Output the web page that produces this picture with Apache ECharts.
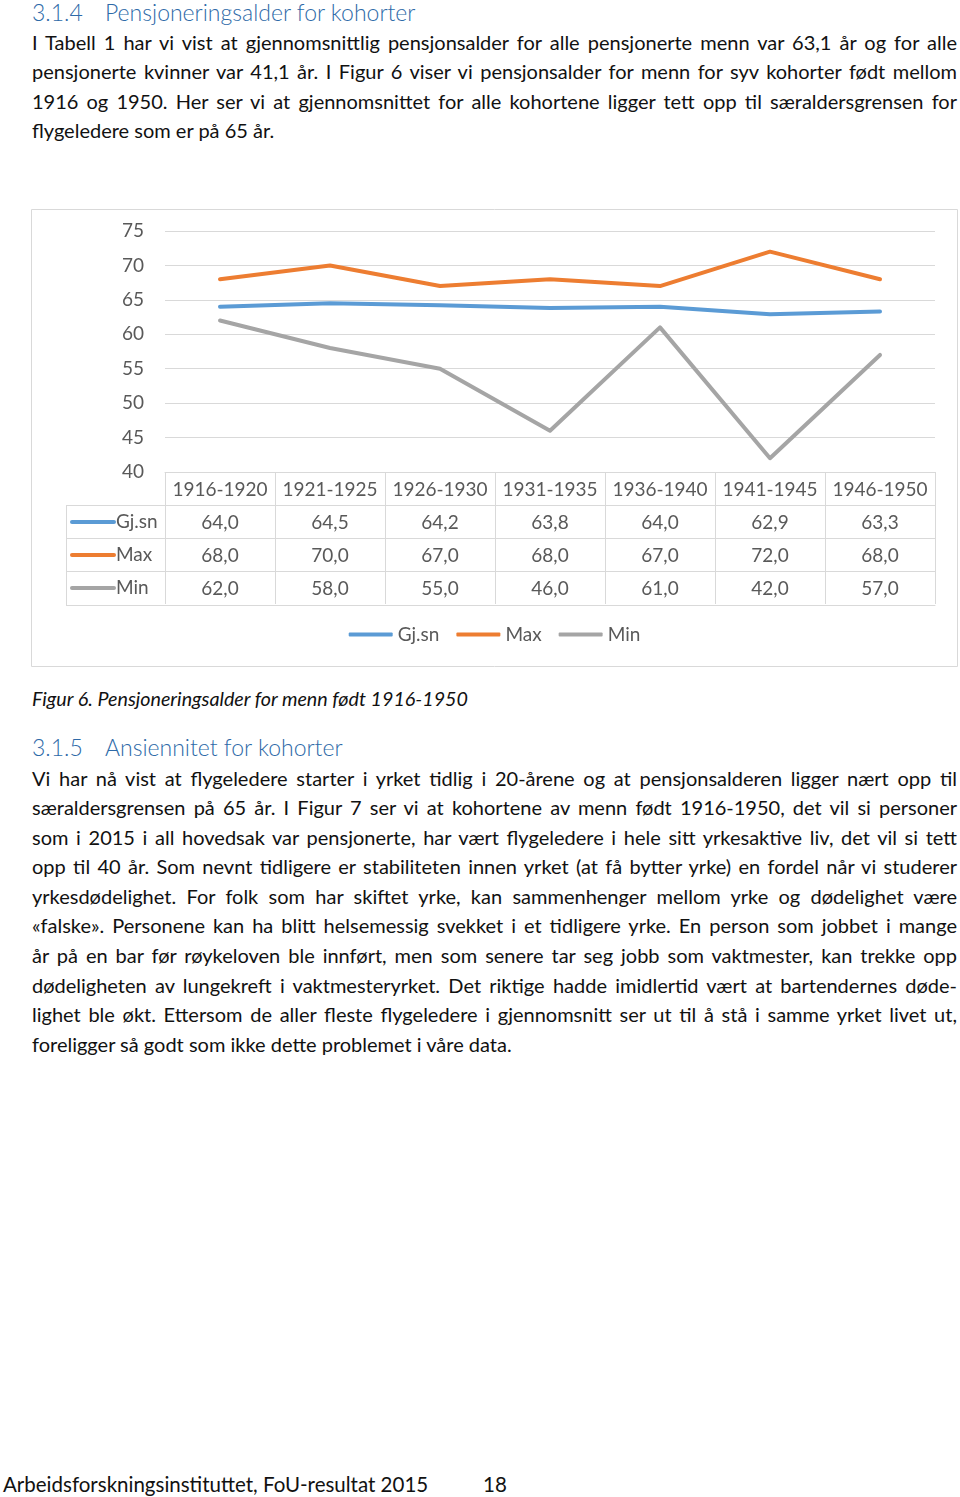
<!DOCTYPE html>
<html><head><meta charset="utf-8">
<script src="https://cdn.jsdelivr.net/npm/echarts@6/dist/echarts.min.js"></script>
<style>
html,body{margin:0;padding:0;background:#fff;}
body{width:960px;height:1497px;position:relative;overflow:hidden;font-family:Lato,'Open Sans',sans-serif;color:#111;}
.h{position:absolute;left:32px;font-size:23px;font-weight:300;color:#2E6AA8;white-space:nowrap;line-height:30px;}
.h .n{display:inline-block;width:73px;}
.p{position:absolute;left:32px;width:925px;font-size:20px;line-height:29.6px;}
.p div{text-align:justify;text-align-last:justify;}
.p div.last{text-align-last:left;}
.cap{position:absolute;left:32px;top:684px;font-size:19.7px;line-height:30px;font-style:italic;white-space:nowrap;color:#111;}
.foot{position:absolute;left:3px;top:1469px;font-size:20.5px;line-height:30px;white-space:nowrap;color:#111;}
.foot span{position:absolute;left:480px;}
#chart{position:absolute;left:31px;top:209px;width:927px;height:458px;}
</style></head>
<body>
<div class="h" style="top:-3px"><span class="n">3.1.4</span>Pensjoneringsalder for kohorter</div>
<div class="p" style="top:27.5px">
<div>I Tabell 1 har vi vist at gjennomsnittlig pensjonsalder for alle pensjonerte menn var 63,1 år og for alle</div>
<div>pensjonerte kvinner var 41,1 år. I Figur 6 viser vi pensjonsalder for menn for syv kohorter født mellom</div>
<div>1916 og 1950. Her ser vi at gjennomsnittet for alle kohortene ligger tett opp til særaldersgrensen for</div>
<div class="last">flygeledere som er på 65 år.</div>
</div>
<div id="chart"></div>
<div class="cap">Figur 6. Pensjoneringsalder for menn født 1916-1950</div>
<div class="h" style="top:732px"><span class="n">3.1.5</span>Ansiennitet for kohorter</div>
<div class="p" style="top:763.5px">
<div>Vi har nå vist at flygeledere starter i yrket tidlig i 20-årene og at pensjonsalderen ligger nært opp til</div>
<div>særaldersgrensen på 65 år. I Figur 7 ser vi at kohortene av menn født 1916-1950, det vil si personer</div>
<div>som i 2015 i all hovedsak var pensjonerte, har vært flygeledere i hele sitt yrkesaktive liv, det vil si tett</div>
<div>opp til 40 år. Som nevnt tidligere er stabiliteten innen yrket (at få bytter yrke) en fordel når vi studerer</div>
<div>yrkesdødelighet. For folk som har skiftet yrke, kan sammenhenger mellom yrke og dødelighet være</div>
<div>«falske». Personene kan ha blitt helsemessig svekket i et tidligere yrke. En person som jobbet i mange</div>
<div>år på en bar før røykeloven ble innført, men som senere tar seg jobb som vaktmester, kan trekke opp</div>
<div>dødeligheten av lungekreft i vaktmesteryrket. Det riktige hadde imidlertid vært at bartendernes døde-</div>
<div>lighet ble økt. Ettersom de aller fleste flygeledere i gjennomsnitt ser ut til å stå i samme yrket livet ut,</div>
<div class="last">foreligger så godt som ikke dette problemet i våre data.</div>
</div>
<div class="foot">Arbeidsforskningsinstituttet, FoU-resultat 2015<span>18</span></div>
<script>
const categories = ['1916-1920','1921-1925','1926-1930','1931-1935','1936-1940','1941-1945','1946-1950'];
const seriesNames = ['Gj.sn','Max','Min'];
const gjsn = [64.0, 64.5, 64.2, 63.8, 64.0, 62.9, 63.3];
const maxv = [68, 70, 67, 68, 67, 72, 68];
const minv = [62, 58, 55, 46, 61, 42, 57];
const colors = ['#5B9BD5','#ED7D31','#A5A5A5'];
const yTicks = {min: 40, max: 75, interval: 5};

// fit justified lines
document.querySelectorAll('.p div').forEach(function(el){
  let fs = 20;
  while (el.getBoundingClientRect().height > 40 && fs > 10) { fs -= 0.2; el.style.fontSize = fs + 'px'; }
});

const values = [gjsn, maxv, minv];
const FONT = 'Lato';
const GRID = {left: 134, top: 22, width: 770, height: 241};
const ROW = 33;
const lineC = '#d9d9d9';
const txtC = '#595959';
const fmt = v => v.toFixed(1).replace('.', ',');

const xAxes = [{
  type: 'category', data: categories, position: 'bottom', gridIndex: 0,
  axisLine: {show: true, lineStyle: {color: lineC}},
  axisTick: {show: true, interval: 0, length: ROW, lineStyle: {color: lineC}},
  axisLabel: {interval: 0, margin: 8, fontSize: 19, color: txtC, fontFamily: FONT}
}];
values.forEach(function(arr, k){
  xAxes.push({
    type: 'category', data: categories, position: 'bottom', gridIndex: 0, offset: ROW*(k+1),
    axisLine: {show: true, lineStyle: {color: lineC}},
    axisTick: {show: true, interval: 0, length: ROW, lineStyle: {color: lineC}},
    axisLabel: {interval: 0, margin: 8, fontSize: 19, color: txtC, fontFamily: FONT,
      formatter: function(v, i){ return fmt(arr[i]); }},
    axisPointer: {show: false}
  });
});
xAxes.push({
  type: 'category', data: categories, position: 'bottom', gridIndex: 0, offset: ROW*4 + 1,
  axisLine: {show: true, lineStyle: {color: lineC}},
  axisTick: {show: false}, axisLabel: {show: false}
});

const axisY = GRID.top + GRID.height;
const graphics = [];
graphics.push({type: 'rect', shape: {x: 0.5, y: 0.5, width: 926, height: 457}, style: {fill: 'none', stroke: lineC, lineWidth: 1}, silent: true});
const leftX = 35;
for (let k = 1; k <= 4; k++) {
  const yy = axisY + ROW*k + (k === 4 ? 1 : 0) + 0.5;
  graphics.push({type: 'line', shape: {x1: leftX, y1: yy, x2: GRID.left, y2: yy}, style: {stroke: lineC, lineWidth: 1}, silent: true});
}
graphics.push({type: 'line', shape: {x1: leftX + 0.5, y1: axisY + ROW + 0.5, x2: leftX + 0.5, y2: axisY + ROW*4 + 1.5}, style: {stroke: lineC, lineWidth: 1}, silent: true});
seriesNames.forEach(function(n, k){
  const cy = axisY + ROW*(k+1) + ROW/2 + 0.5;
  graphics.push({type: 'line', shape: {x1: leftX + 6, y1: cy, x2: leftX + 48, y2: cy}, style: {stroke: colors[k], lineWidth: 4, lineCap: 'round'}, silent: true});
  graphics.push({type: 'text', x: leftX + 50, y: cy, style: {text: n, fontSize: 19, fill: txtC, fontFamily: FONT, verticalAlign: 'middle', align: 'left'}, silent: true});
});

const chart = echarts.init(document.getElementById('chart'), null, {renderer: 'canvas'});
chart.setOption({
  animation: false,
  color: colors,
  grid: GRID,
  legend: {
    data: seriesNames, top: 411, left: 'center',
    icon: 'roundRect', itemWidth: 44, itemHeight: 4, itemGap: 17,
    textStyle: {fontSize: 19, color: txtC, fontFamily: FONT}
  },
  xAxis: xAxes,
  yAxis: {
    type: 'value', min: yTicks.min, max: yTicks.max, interval: yTicks.interval,
    axisLine: {show: false}, axisTick: {show: false},
    splitLine: {lineStyle: {color: lineC}},
    axisLabel: {margin: 21, fontSize: 19, color: txtC, fontFamily: FONT}
  },
  series: values.map(function(arr, k){
    return {
      name: seriesNames[k], type: 'line', data: arr, xAxisIndex: 0, symbol: 'none',
      lineStyle: {width: 4, color: colors[k], cap: 'round', join: 'round'},
      itemStyle: {color: colors[k]}
    };
  }),
  graphic: graphics
});
</script>
</body></html>
